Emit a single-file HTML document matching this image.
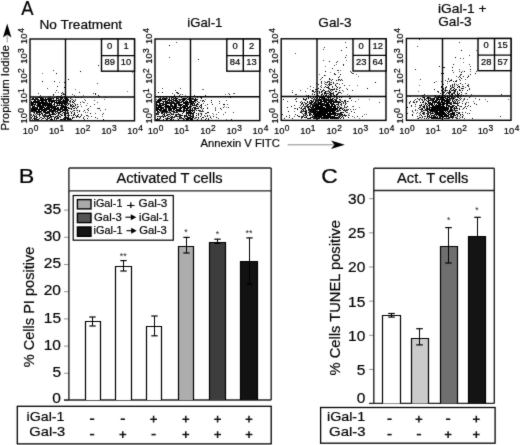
<!DOCTYPE html>
<html><head><meta charset="utf-8"><style>
html,body{margin:0;padding:0;background:#fff;}
svg{display:block;font-family:"Liberation Sans",sans-serif;filter:grayscale(1);}
text{stroke:#000;stroke-width:0.2px;}
</style></head><body>
<svg width="520" height="445" viewBox="0 0 520 445">
<defs><filter id="bl" x="-0.02" y="-0.02" width="1.04" height="1.04" color-interpolation-filters="sRGB"><feConvolveMatrix order="3" kernelMatrix="0.02 0.07 0.02 0.07 0.64 0.07 0.02 0.07 0.02" edgeMode="none" preserveAlpha="true"/></filter></defs>
<g filter="url(#bl)">
<rect x="-10" y="-10" width="540" height="465" fill="#fff"/>
<path d="M132 72h1v1h-1zM42 73h1v1h-1zM59 82h1v1h-1zM75 89h1v1h-1zM65 90h1v1h-1zM127 91h1v1h-1zM55 92h1v1h-1zM58 92h1v1h-1zM62 94h1v1h-1zM83 95h1v1h-1zM48 96h1v1h-1zM37 97h1v1h-1zM49 97h1v1h-1zM75 97h2v1h-2zM71 99h1v1h-1zM84 99h1v1h-1zM104 99h1v1h-1zM82 101h1v1h-1zM84 102h1v1h-1zM87 103h1v1h-1zM80 104h1v1h-1zM71 106h1v1h-1zM77 106h1v1h-1zM76 110h1v1h-1zM83 111h1v1h-1zM87 112h1v1h-1zM84 116h1v1h-1zM102 116h1v1h-1zM74 117h1v1h-1z" fill="#707070" shape-rendering="crispEdges"/>
<path d="M53 70h1v1h-1zM97 83h1v1h-1zM47 88h1v1h-1zM38 93h1v1h-1zM93 93h1v1h-1zM72 94h1v1h-1zM40 95h1v1h-1zM53 95h1v1h-1zM74 95h1v1h-1zM39 96h1v1h-1zM56 96h1v1h-1zM35 97h1v1h-1zM66 97h1v1h-1zM78 97h1v1h-1zM47 98h1v1h-1zM53 99h1v1h-1zM58 99h2v1h-2zM72 99h1v1h-1zM75 99h1v1h-1zM59 100h1v1h-1zM62 100h1v1h-1zM75 100h1v1h-1zM85 100h1v1h-1zM94 100h1v1h-1zM70 101h1v1h-1zM61 102h1v1h-1zM70 102h1v1h-1zM72 102h1v1h-1zM83 102h1v1h-1zM97 102h1v1h-1zM66 103h4v1h-4zM94 104h1v1h-1zM73 105h1v1h-1zM86 105h1v1h-1zM66 106h1v1h-1zM74 106h1v1h-1zM78 106h1v1h-1zM81 106h1v1h-1zM67 107h1v1h-1zM72 107h1v1h-1zM75 107h1v1h-1zM70 108h1v1h-1zM73 108h1v1h-1zM88 108h1v1h-1zM97 108h2v1h-2zM61 109h1v1h-1zM105 109h1v1h-1zM68 110h1v1h-1zM73 110h1v1h-1zM79 110h1v1h-1zM100 110h1v1h-1zM33 111h1v1h-1zM54 111h1v1h-1zM70 111h1v1h-1zM72 111h1v1h-1zM40 112h2v1h-2zM43 112h1v1h-1zM51 112h1v1h-1zM53 112h1v1h-1zM57 112h1v1h-1zM68 112h1v1h-1zM77 112h1v1h-1zM85 112h1v1h-1zM34 113h1v1h-1zM37 113h1v1h-1zM48 113h1v1h-1zM54 113h1v1h-1zM95 113h1v1h-1zM103 113h1v1h-1zM31 114h1v1h-1zM33 114h1v1h-1zM35 114h1v1h-1zM37 114h2v1h-2zM61 114h1v1h-1zM73 114h1v1h-1zM102 114h1v1h-1zM31 115h1v1h-1zM34 115h1v1h-1zM36 115h1v1h-1zM43 115h2v1h-2zM46 115h2v1h-2zM57 115h1v1h-1zM69 115h1v1h-1zM81 115h1v1h-1zM35 116h1v1h-1zM39 116h1v1h-1zM45 116h1v1h-1zM52 116h1v1h-1zM55 116h1v1h-1zM57 116h1v1h-1zM60 116h1v1h-1zM78 116h1v1h-1zM88 116h1v1h-1zM91 116h1v1h-1zM40 117h1v1h-1zM50 117h2v1h-2zM60 117h1v1h-1zM76 117h1v1h-1zM83 117h1v1h-1zM31 118h1v1h-1zM33 118h1v1h-1zM36 118h1v1h-1zM49 118h1v1h-1zM64 118h1v1h-1zM66 118h1v1h-1zM69 118h1v1h-1zM97 118h1v1h-1zM32 119h1v1h-1zM35 119h1v1h-1zM41 119h1v1h-1zM47 119h1v1h-1zM56 119h1v1h-1zM63 119h1v1h-1zM71 119h1v1h-1zM84 119h1v1h-1z" fill="#404040" shape-rendering="crispEdges"/>
<path d="M105 51h1v1h-1zM98 65h1v1h-1zM64 82h1v1h-1zM57 86h1v1h-1zM56 90h1v1h-1zM62 92h1v1h-1zM79 92h1v1h-1zM61 93h1v1h-1zM63 93h1v1h-1zM95 93h1v1h-1zM63 94h2v1h-2zM95 94h1v1h-1zM98 95h1v1h-1zM33 96h1v1h-1zM57 96h1v1h-1zM59 96h2v1h-2zM64 96h1v1h-1zM99 96h1v1h-1zM38 97h1v1h-1zM105 97h1v1h-1zM35 98h3v1h-3zM43 98h1v1h-1zM49 98h1v1h-1zM51 98h2v1h-2zM60 98h2v1h-2zM67 98h1v1h-1zM33 99h1v1h-1zM36 99h1v1h-1zM43 99h2v1h-2zM51 99h1v1h-1zM65 99h2v1h-2zM35 100h1v1h-1zM37 100h2v1h-2zM50 100h1v1h-1zM56 100h1v1h-1zM64 100h2v1h-2zM67 100h1v1h-1zM70 100h1v1h-1zM39 101h1v1h-1zM43 101h1v1h-1zM50 101h1v1h-1zM58 101h1v1h-1zM60 101h1v1h-1zM62 101h1v1h-1zM67 101h1v1h-1zM45 102h3v1h-3zM62 102h5v1h-5zM80 102h1v1h-1zM33 103h1v1h-1zM63 103h1v1h-1zM74 103h1v1h-1zM45 104h1v1h-1zM47 104h1v1h-1zM53 104h1v1h-1zM57 104h1v1h-1zM62 104h1v1h-1zM75 104h1v1h-1zM31 105h1v1h-1zM41 105h2v1h-2zM54 105h1v1h-1zM56 105h1v1h-1zM60 105h1v1h-1zM62 105h1v1h-1zM49 106h1v1h-1zM52 106h1v1h-1zM65 106h1v1h-1zM73 106h1v1h-1zM90 106h1v1h-1zM34 107h1v1h-1zM36 107h1v1h-1zM52 107h1v1h-1zM62 107h1v1h-1zM65 107h1v1h-1zM77 107h1v1h-1zM35 108h1v1h-1zM47 108h1v1h-1zM53 108h1v1h-1zM62 108h1v1h-1zM31 109h1v1h-1zM41 109h1v1h-1zM45 109h1v1h-1zM57 109h1v1h-1zM62 109h1v1h-1zM65 109h1v1h-1zM87 109h1v1h-1zM36 110h1v1h-1zM43 110h1v1h-1zM50 110h1v1h-1zM55 110h1v1h-1zM58 110h3v1h-3zM65 110h1v1h-1zM67 110h1v1h-1zM84 110h1v1h-1zM88 110h1v1h-1zM34 111h2v1h-2zM49 111h1v1h-1zM51 111h1v1h-1zM55 111h1v1h-1zM33 112h1v1h-1zM37 112h1v1h-1zM74 112h1v1h-1zM42 113h1v1h-1zM45 113h1v1h-1zM59 113h1v1h-1zM62 113h1v1h-1zM64 113h1v1h-1zM66 113h2v1h-2zM71 113h1v1h-1zM45 114h1v1h-1zM50 114h1v1h-1zM54 114h1v1h-1zM68 114h1v1h-1zM74 114h1v1h-1zM78 114h1v1h-1zM81 114h1v1h-1zM33 115h1v1h-1zM42 115h1v1h-1zM45 115h1v1h-1zM61 115h2v1h-2zM68 115h1v1h-1zM71 115h1v1h-1zM75 115h1v1h-1zM86 115h2v1h-2zM32 116h1v1h-1zM36 116h1v1h-1zM44 116h1v1h-1zM46 116h1v1h-1zM65 116h1v1h-1zM76 116h1v1h-1zM31 117h1v1h-1zM36 117h2v1h-2zM41 117h1v1h-1zM44 117h1v1h-1zM47 117h1v1h-1zM54 117h1v1h-1zM58 117h1v1h-1zM67 117h1v1h-1zM73 117h1v1h-1zM35 118h1v1h-1zM45 118h1v1h-1zM51 118h1v1h-1zM63 118h1v1h-1zM83 118h1v1h-1zM36 119h1v1h-1zM62 119h1v1h-1zM69 119h1v1h-1z" fill="#1a1a1a" shape-rendering="crispEdges"/>
<path d="M103 64h1v1h-1zM80 71h1v1h-1zM56 73h1v1h-1zM68 79h1v1h-1zM42 81h1v1h-1zM54 81h1v1h-1zM64 87h1v1h-1zM53 94h1v1h-1zM61 95h1v1h-1zM50 96h1v1h-1zM58 96h1v1h-1zM39 97h3v1h-3zM54 97h1v1h-1zM56 97h1v1h-1zM60 97h3v1h-3zM68 97h1v1h-1zM71 97h1v1h-1zM81 97h1v1h-1zM32 98h2v1h-2zM40 98h3v1h-3zM45 98h1v1h-1zM48 98h1v1h-1zM50 98h1v1h-1zM53 98h1v1h-1zM56 98h3v1h-3zM62 98h1v1h-1zM64 98h1v1h-1zM66 98h1v1h-1zM70 98h1v1h-1zM31 99h2v1h-2zM34 99h2v1h-2zM37 99h2v1h-2zM40 99h3v1h-3zM45 99h6v1h-6zM56 99h1v1h-1zM60 99h2v1h-2zM63 99h1v1h-1zM67 99h2v1h-2zM34 100h1v1h-1zM39 100h8v1h-8zM48 100h2v1h-2zM51 100h5v1h-5zM57 100h2v1h-2zM60 100h1v1h-1zM63 100h1v1h-1zM66 100h1v1h-1zM68 100h1v1h-1zM73 100h1v1h-1zM31 101h1v1h-1zM33 101h6v1h-6zM41 101h2v1h-2zM45 101h2v1h-2zM48 101h2v1h-2zM51 101h4v1h-4zM56 101h1v1h-1zM59 101h1v1h-1zM61 101h1v1h-1zM63 101h2v1h-2zM66 101h1v1h-1zM69 101h1v1h-1zM72 101h1v1h-1zM74 101h1v1h-1zM31 102h14v1h-14zM49 102h1v1h-1zM51 102h2v1h-2zM54 102h7v1h-7zM67 102h1v1h-1zM73 102h1v1h-1zM31 103h2v1h-2zM35 103h1v1h-1zM37 103h15v1h-15zM54 103h1v1h-1zM56 103h7v1h-7zM64 103h2v1h-2zM31 104h5v1h-5zM37 104h4v1h-4zM42 104h3v1h-3zM46 104h1v1h-1zM48 104h4v1h-4zM54 104h1v1h-1zM59 104h1v1h-1zM61 104h1v1h-1zM64 104h1v1h-1zM66 104h1v1h-1zM68 104h1v1h-1zM70 104h1v1h-1zM72 104h1v1h-1zM77 104h1v1h-1zM32 105h1v1h-1zM34 105h1v1h-1zM36 105h5v1h-5zM43 105h10v1h-10zM57 105h3v1h-3zM61 105h1v1h-1zM63 105h1v1h-1zM67 105h1v1h-1zM70 105h2v1h-2zM75 105h1v1h-1zM32 106h3v1h-3zM37 106h7v1h-7zM45 106h1v1h-1zM47 106h2v1h-2zM50 106h2v1h-2zM53 106h4v1h-4zM61 106h4v1h-4zM70 106h1v1h-1zM72 106h1v1h-1zM32 107h2v1h-2zM35 107h1v1h-1zM37 107h1v1h-1zM39 107h6v1h-6zM46 107h6v1h-6zM53 107h3v1h-3zM57 107h2v1h-2zM60 107h2v1h-2zM63 107h2v1h-2zM66 107h1v1h-1zM68 107h1v1h-1zM31 108h4v1h-4zM36 108h2v1h-2zM39 108h4v1h-4zM44 108h3v1h-3zM48 108h2v1h-2zM51 108h2v1h-2zM54 108h5v1h-5zM60 108h2v1h-2zM64 108h3v1h-3zM68 108h2v1h-2zM71 108h1v1h-1zM74 108h1v1h-1zM76 108h1v1h-1zM99 108h1v1h-1zM32 109h9v1h-9zM42 109h3v1h-3zM46 109h6v1h-6zM53 109h4v1h-4zM58 109h3v1h-3zM63 109h2v1h-2zM66 109h2v1h-2zM71 109h1v1h-1zM31 110h5v1h-5zM38 110h2v1h-2zM41 110h2v1h-2zM44 110h3v1h-3zM49 110h1v1h-1zM51 110h4v1h-4zM57 110h1v1h-1zM62 110h3v1h-3zM66 110h1v1h-1zM74 110h1v1h-1zM77 110h1v1h-1zM31 111h2v1h-2zM36 111h6v1h-6zM43 111h3v1h-3zM47 111h2v1h-2zM50 111h1v1h-1zM52 111h2v1h-2zM56 111h2v1h-2zM60 111h3v1h-3zM65 111h1v1h-1zM67 111h1v1h-1zM79 111h1v1h-1zM34 112h1v1h-1zM36 112h1v1h-1zM38 112h2v1h-2zM44 112h6v1h-6zM52 112h1v1h-1zM55 112h1v1h-1zM58 112h3v1h-3zM63 112h3v1h-3zM67 112h1v1h-1zM71 112h1v1h-1zM36 113h1v1h-1zM39 113h1v1h-1zM41 113h1v1h-1zM46 113h2v1h-2zM49 113h1v1h-1zM52 113h2v1h-2zM56 113h1v1h-1zM58 113h1v1h-1zM65 113h1v1h-1zM68 113h1v1h-1zM74 113h1v1h-1zM90 113h1v1h-1zM39 114h2v1h-2zM42 114h1v1h-1zM44 114h1v1h-1zM49 114h1v1h-1zM51 114h3v1h-3zM55 114h1v1h-1zM58 114h1v1h-1zM60 114h1v1h-1zM64 114h1v1h-1zM39 115h1v1h-1zM48 115h3v1h-3zM58 115h1v1h-1zM64 115h2v1h-2zM67 115h1v1h-1zM73 115h1v1h-1zM77 115h1v1h-1zM34 116h1v1h-1zM43 116h1v1h-1zM47 116h2v1h-2zM50 116h2v1h-2zM53 116h1v1h-1zM56 116h1v1h-1zM59 116h1v1h-1zM68 116h1v1h-1zM77 116h1v1h-1zM80 116h1v1h-1zM34 117h1v1h-1zM49 117h1v1h-1zM55 117h1v1h-1zM57 117h1v1h-1zM64 117h3v1h-3zM68 117h1v1h-1zM72 117h1v1h-1zM79 117h1v1h-1zM95 117h1v1h-1zM34 118h1v1h-1zM39 118h1v1h-1zM42 118h2v1h-2zM47 118h2v1h-2zM54 118h1v1h-1zM56 118h3v1h-3zM65 118h1v1h-1zM67 118h2v1h-2zM70 118h1v1h-1zM72 118h1v1h-1zM87 118h1v1h-1zM34 119h1v1h-1zM37 119h2v1h-2zM46 119h1v1h-1zM50 119h3v1h-3zM54 119h1v1h-1zM60 119h2v1h-2zM64 119h2v1h-2zM67 119h2v1h-2zM70 119h1v1h-1zM103 119h1v1h-1z" fill="#000" shape-rendering="crispEdges"/>
<rect x="30.0" y="39.0" width="104.5" height="81.8" fill="none" stroke="#000" stroke-width="1.4"/>
<line x1="65.5" y1="39.0" x2="65.5" y2="120.8" stroke="#000" stroke-width="1.4"/>
<line x1="30.0" y1="97.0" x2="134.5" y2="97.0" stroke="#000" stroke-width="1.4"/>
<rect x="101.5" y="39.0" width="33.0" height="32.2" fill="#fff" stroke="#000" stroke-width="1.4"/>
<line x1="118.0" y1="39.0" x2="118.0" y2="71.2" stroke="#000" stroke-width="1.4"/>
<line x1="101.5" y1="55.6" x2="134.5" y2="55.6" stroke="#000" stroke-width="1.4"/>
<text x="107.12" y="48.90" font-size="9.40" textLength="5.23" lengthAdjust="spacingAndGlyphs" fill="#000" >0</text>
<text x="123.50" y="48.90" font-size="9.40" textLength="5.23" lengthAdjust="spacingAndGlyphs" fill="#000" >1</text>
<text x="104.53" y="65.00" font-size="9.40" textLength="10.46" lengthAdjust="spacingAndGlyphs" fill="#000" >89</text>
<text x="120.84" y="65.00" font-size="9.40" textLength="10.46" lengthAdjust="spacingAndGlyphs" fill="#000" >10</text>
<text x="22.80" y="134.40" font-size="9.4">10</text>
<text x="33.66" y="131.40" font-size="8.4">0</text>
<text x="48.92" y="134.40" font-size="9.4">10</text>
<text x="59.49" y="131.40" font-size="8.4">1</text>
<text x="75.05" y="134.40" font-size="9.4">10</text>
<text x="85.83" y="131.40" font-size="8.4">2</text>
<text x="101.17" y="134.40" font-size="9.4">10</text>
<text x="112.04" y="131.40" font-size="8.4">3</text>
<text x="127.30" y="134.40" font-size="9.4">10</text>
<text x="138.33" y="131.40" font-size="8.4">4</text>
<g transform="translate(27.00,122.80) rotate(-90)"><text x="-0.70" y="0" font-size="9.4">10</text><text x="10.16" y="-3.0" font-size="8.4">0</text></g>
<g transform="translate(27.00,102.90) rotate(-90)"><text x="-0.70" y="0" font-size="9.4">10</text><text x="9.87" y="-3.0" font-size="8.4">1</text></g>
<g transform="translate(27.00,83.00) rotate(-90)"><text x="-0.70" y="0" font-size="9.4">10</text><text x="10.08" y="-3.0" font-size="8.4">2</text></g>
<g transform="translate(27.00,63.10) rotate(-90)"><text x="-0.70" y="0" font-size="9.4">10</text><text x="10.16" y="-3.0" font-size="8.4">3</text></g>
<g transform="translate(27.00,43.20) rotate(-90)"><text x="-0.70" y="0" font-size="9.4">10</text><text x="10.33" y="-3.0" font-size="8.4">4</text></g>
<path d="M202 89h2v1h-2zM228 93h1v1h-1zM233 93h1v1h-1zM174 94h1v1h-1zM225 94h1v1h-1zM185 95h1v1h-1zM197 96h1v1h-1zM204 96h1v1h-1zM230 96h1v1h-1zM205 99h1v1h-1zM224 106h1v1h-1zM198 107h1v1h-1zM207 107h1v1h-1zM215 107h1v1h-1zM226 107h1v1h-1zM215 108h1v1h-1zM202 109h1v1h-1zM215 109h1v1h-1zM199 111h1v1h-1zM212 113h1v1h-1zM213 114h1v1h-1zM201 115h1v1h-1zM209 115h1v1h-1zM210 116h1v1h-1zM172 118h1v1h-1zM195 118h1v1h-1zM211 118h1v1h-1zM226 119h1v1h-1z" fill="#707070" shape-rendering="crispEdges"/>
<path d="M176 42h1v1h-1zM169 57h1v1h-1zM247 69h1v1h-1zM162 88h1v1h-1zM180 88h1v1h-1zM175 90h1v1h-1zM172 93h1v1h-1zM177 93h1v1h-1zM234 93h1v1h-1zM180 94h1v1h-1zM182 94h1v1h-1zM174 95h1v1h-1zM180 96h3v1h-3zM158 97h1v1h-1zM169 97h1v1h-1zM171 97h1v1h-1zM173 97h1v1h-1zM189 97h1v1h-1zM200 97h1v1h-1zM159 98h1v1h-1zM163 98h1v1h-1zM167 98h1v1h-1zM173 98h1v1h-1zM182 98h1v1h-1zM188 98h1v1h-1zM190 98h2v1h-2zM193 98h1v1h-1zM156 99h1v1h-1zM171 99h1v1h-1zM180 99h1v1h-1zM191 99h3v1h-3zM179 100h1v1h-1zM200 100h1v1h-1zM202 100h1v1h-1zM226 100h1v1h-1zM181 101h1v1h-1zM195 101h1v1h-1zM192 102h1v1h-1zM195 102h1v1h-1zM198 102h2v1h-2zM188 103h1v1h-1zM190 103h1v1h-1zM203 103h1v1h-1zM219 103h1v1h-1zM198 104h1v1h-1zM227 104h1v1h-1zM205 105h1v1h-1zM196 106h1v1h-1zM201 106h1v1h-1zM176 107h1v1h-1zM179 107h1v1h-1zM182 107h1v1h-1zM201 107h1v1h-1zM183 108h1v1h-1zM201 108h1v1h-1zM194 109h1v1h-1zM221 109h1v1h-1zM200 110h1v1h-1zM202 110h1v1h-1zM215 110h1v1h-1zM160 111h2v1h-2zM171 111h1v1h-1zM177 111h2v1h-2zM194 111h1v1h-1zM200 111h1v1h-1zM202 111h2v1h-2zM158 112h1v1h-1zM163 112h3v1h-3zM167 112h2v1h-2zM173 112h1v1h-1zM175 112h1v1h-1zM218 112h1v1h-1zM225 112h1v1h-1zM233 112h1v1h-1zM157 113h1v1h-1zM170 113h1v1h-1zM173 113h1v1h-1zM178 113h1v1h-1zM200 113h1v1h-1zM205 113h2v1h-2zM157 114h1v1h-1zM175 114h1v1h-1zM177 114h1v1h-1zM180 114h1v1h-1zM192 114h1v1h-1zM216 114h1v1h-1zM223 114h1v1h-1zM170 115h1v1h-1zM179 115h1v1h-1zM185 115h1v1h-1zM192 115h1v1h-1zM198 115h1v1h-1zM204 115h1v1h-1zM158 116h1v1h-1zM160 116h1v1h-1zM162 116h1v1h-1zM164 116h1v1h-1zM169 116h1v1h-1zM171 116h1v1h-1zM174 116h2v1h-2zM178 116h1v1h-1zM185 116h1v1h-1zM172 117h1v1h-1zM180 117h1v1h-1zM195 117h1v1h-1zM160 118h1v1h-1zM165 118h1v1h-1zM177 118h1v1h-1zM181 118h1v1h-1zM194 118h1v1h-1zM198 118h1v1h-1zM201 118h1v1h-1zM208 118h1v1h-1zM218 118h1v1h-1zM159 119h1v1h-1zM167 119h1v1h-1zM184 119h1v1h-1zM201 119h1v1h-1z" fill="#404040" shape-rendering="crispEdges"/>
<path d="M198 59h1v1h-1zM176 92h1v1h-1zM179 95h1v1h-1zM194 95h1v1h-1zM205 95h1v1h-1zM203 96h1v1h-1zM160 97h1v1h-1zM163 97h1v1h-1zM172 97h1v1h-1zM175 97h1v1h-1zM160 98h1v1h-1zM166 98h1v1h-1zM175 98h1v1h-1zM185 98h1v1h-1zM161 99h1v1h-1zM166 99h1v1h-1zM175 99h1v1h-1zM178 99h1v1h-1zM182 99h1v1h-1zM188 99h1v1h-1zM196 99h1v1h-1zM157 100h1v1h-1zM167 100h1v1h-1zM173 100h1v1h-1zM177 100h1v1h-1zM180 100h1v1h-1zM183 100h1v1h-1zM186 100h1v1h-1zM196 100h1v1h-1zM156 101h1v1h-1zM159 101h2v1h-2zM164 101h1v1h-1zM167 101h1v1h-1zM172 101h2v1h-2zM176 101h2v1h-2zM179 101h1v1h-1zM182 101h1v1h-1zM186 101h1v1h-1zM189 101h1v1h-1zM197 101h1v1h-1zM202 101h1v1h-1zM204 101h1v1h-1zM219 101h1v1h-1zM166 102h1v1h-1zM171 102h4v1h-4zM176 102h2v1h-2zM179 102h1v1h-1zM211 102h1v1h-1zM162 103h1v1h-1zM165 103h1v1h-1zM169 103h2v1h-2zM172 103h1v1h-1zM178 103h1v1h-1zM183 103h1v1h-1zM192 103h2v1h-2zM157 104h1v1h-1zM162 104h1v1h-1zM166 104h1v1h-1zM176 104h1v1h-1zM187 104h1v1h-1zM191 104h1v1h-1zM196 104h1v1h-1zM207 104h1v1h-1zM212 104h1v1h-1zM162 105h2v1h-2zM170 105h1v1h-1zM184 105h2v1h-2zM195 105h1v1h-1zM200 105h1v1h-1zM161 106h1v1h-1zM170 106h1v1h-1zM172 106h1v1h-1zM191 106h1v1h-1zM173 107h1v1h-1zM223 107h1v1h-1zM228 107h1v1h-1zM162 108h1v1h-1zM165 108h2v1h-2zM172 108h1v1h-1zM195 108h1v1h-1zM169 109h1v1h-1zM179 109h1v1h-1zM195 109h1v1h-1zM161 110h2v1h-2zM165 110h1v1h-1zM168 110h1v1h-1zM173 110h1v1h-1zM184 110h1v1h-1zM193 110h1v1h-1zM169 111h1v1h-1zM173 111h1v1h-1zM176 111h1v1h-1zM180 111h2v1h-2zM188 111h2v1h-2zM201 111h1v1h-1zM157 112h1v1h-1zM161 112h1v1h-1zM169 112h2v1h-2zM177 112h1v1h-1zM191 112h1v1h-1zM193 112h1v1h-1zM158 113h1v1h-1zM166 113h1v1h-1zM171 113h1v1h-1zM188 113h2v1h-2zM196 113h1v1h-1zM201 113h1v1h-1zM158 114h1v1h-1zM167 114h1v1h-1zM171 114h1v1h-1zM193 114h1v1h-1zM198 114h1v1h-1zM162 115h1v1h-1zM175 115h2v1h-2zM193 115h1v1h-1zM207 115h1v1h-1zM161 116h1v1h-1zM172 116h1v1h-1zM176 116h1v1h-1zM179 116h2v1h-2zM192 116h1v1h-1zM200 116h1v1h-1zM207 116h1v1h-1zM163 117h1v1h-1zM167 117h1v1h-1zM173 117h2v1h-2zM179 117h1v1h-1zM192 117h1v1h-1zM202 117h1v1h-1zM159 118h1v1h-1zM166 118h1v1h-1zM171 118h1v1h-1zM179 118h2v1h-2zM182 118h2v1h-2zM190 118h1v1h-1zM206 118h1v1h-1zM156 119h3v1h-3zM183 119h1v1h-1zM197 119h1v1h-1zM231 119h1v1h-1z" fill="#1a1a1a" shape-rendering="crispEdges"/>
<path d="M169 45h1v1h-1zM239 56h1v1h-1zM229 62h1v1h-1zM158 92h1v1h-1zM162 92h1v1h-1zM177 92h1v1h-1zM178 93h1v1h-1zM229 94h1v1h-1zM178 96h1v1h-1zM194 96h1v1h-1zM166 97h1v1h-1zM181 97h1v1h-1zM187 97h1v1h-1zM190 97h1v1h-1zM197 97h1v1h-1zM201 97h1v1h-1zM230 97h1v1h-1zM162 98h1v1h-1zM164 98h2v1h-2zM169 98h1v1h-1zM171 98h1v1h-1zM174 98h1v1h-1zM176 98h2v1h-2zM183 98h2v1h-2zM186 98h1v1h-1zM189 98h1v1h-1zM192 98h1v1h-1zM195 98h1v1h-1zM201 98h1v1h-1zM158 99h3v1h-3zM162 99h4v1h-4zM168 99h2v1h-2zM172 99h2v1h-2zM176 99h1v1h-1zM179 99h1v1h-1zM181 99h1v1h-1zM183 99h3v1h-3zM187 99h1v1h-1zM189 99h2v1h-2zM194 99h2v1h-2zM197 99h1v1h-1zM158 100h4v1h-4zM165 100h1v1h-1zM168 100h4v1h-4zM174 100h3v1h-3zM182 100h1v1h-1zM184 100h1v1h-1zM189 100h1v1h-1zM191 100h1v1h-1zM194 100h2v1h-2zM203 100h1v1h-1zM211 100h1v1h-1zM157 101h2v1h-2zM162 101h2v1h-2zM165 101h2v1h-2zM169 101h1v1h-1zM171 101h1v1h-1zM175 101h1v1h-1zM178 101h1v1h-1zM183 101h1v1h-1zM185 101h1v1h-1zM187 101h1v1h-1zM190 101h5v1h-5zM156 102h4v1h-4zM163 102h1v1h-1zM165 102h1v1h-1zM167 102h4v1h-4zM178 102h1v1h-1zM180 102h2v1h-2zM183 102h7v1h-7zM191 102h1v1h-1zM193 102h1v1h-1zM156 103h1v1h-1zM159 103h3v1h-3zM163 103h1v1h-1zM166 103h3v1h-3zM171 103h1v1h-1zM173 103h5v1h-5zM179 103h1v1h-1zM184 103h4v1h-4zM191 103h1v1h-1zM194 103h1v1h-1zM197 103h1v1h-1zM156 104h1v1h-1zM159 104h2v1h-2zM163 104h3v1h-3zM170 104h2v1h-2zM174 104h2v1h-2zM178 104h5v1h-5zM185 104h2v1h-2zM188 104h1v1h-1zM190 104h1v1h-1zM192 104h1v1h-1zM194 104h1v1h-1zM197 104h1v1h-1zM201 104h1v1h-1zM223 104h2v1h-2zM156 105h6v1h-6zM165 105h4v1h-4zM171 105h2v1h-2zM174 105h3v1h-3zM178 105h4v1h-4zM183 105h1v1h-1zM186 105h2v1h-2zM190 105h1v1h-1zM192 105h3v1h-3zM196 105h1v1h-1zM201 105h1v1h-1zM156 106h1v1h-1zM158 106h3v1h-3zM164 106h6v1h-6zM171 106h1v1h-1zM173 106h4v1h-4zM180 106h1v1h-1zM182 106h6v1h-6zM189 106h2v1h-2zM197 106h1v1h-1zM199 106h1v1h-1zM156 107h8v1h-8zM165 107h6v1h-6zM172 107h1v1h-1zM174 107h2v1h-2zM177 107h2v1h-2zM180 107h2v1h-2zM183 107h3v1h-3zM187 107h4v1h-4zM193 107h3v1h-3zM200 107h1v1h-1zM156 108h3v1h-3zM160 108h2v1h-2zM163 108h1v1h-1zM168 108h4v1h-4zM173 108h4v1h-4zM179 108h3v1h-3zM184 108h5v1h-5zM192 108h1v1h-1zM194 108h1v1h-1zM196 108h3v1h-3zM203 108h1v1h-1zM207 108h1v1h-1zM220 108h1v1h-1zM156 109h6v1h-6zM163 109h4v1h-4zM168 109h1v1h-1zM170 109h2v1h-2zM173 109h2v1h-2zM176 109h3v1h-3zM180 109h1v1h-1zM183 109h2v1h-2zM186 109h2v1h-2zM189 109h2v1h-2zM192 109h1v1h-1zM156 110h2v1h-2zM159 110h2v1h-2zM163 110h2v1h-2zM166 110h1v1h-1zM169 110h3v1h-3zM175 110h7v1h-7zM183 110h1v1h-1zM185 110h5v1h-5zM191 110h2v1h-2zM194 110h1v1h-1zM196 110h1v1h-1zM198 110h2v1h-2zM157 111h2v1h-2zM162 111h6v1h-6zM172 111h1v1h-1zM174 111h1v1h-1zM179 111h1v1h-1zM182 111h3v1h-3zM186 111h1v1h-1zM192 111h1v1h-1zM159 112h1v1h-1zM162 112h1v1h-1zM166 112h1v1h-1zM174 112h1v1h-1zM176 112h1v1h-1zM183 112h1v1h-1zM186 112h5v1h-5zM194 112h1v1h-1zM207 112h2v1h-2zM156 113h1v1h-1zM161 113h2v1h-2zM164 113h1v1h-1zM182 113h1v1h-1zM186 113h2v1h-2zM190 113h4v1h-4zM198 113h1v1h-1zM156 114h1v1h-1zM163 114h2v1h-2zM168 114h2v1h-2zM172 114h2v1h-2zM176 114h1v1h-1zM178 114h2v1h-2zM186 114h1v1h-1zM188 114h1v1h-1zM190 114h1v1h-1zM201 114h1v1h-1zM164 115h1v1h-1zM166 115h2v1h-2zM180 115h3v1h-3zM184 115h1v1h-1zM186 115h1v1h-1zM188 115h3v1h-3zM196 115h1v1h-1zM157 116h1v1h-1zM159 116h1v1h-1zM163 116h1v1h-1zM165 116h1v1h-1zM168 116h1v1h-1zM177 116h1v1h-1zM184 116h1v1h-1zM186 116h2v1h-2zM190 116h2v1h-2zM193 116h1v1h-1zM205 116h1v1h-1zM213 116h1v1h-1zM160 117h1v1h-1zM170 117h2v1h-2zM181 117h1v1h-1zM184 117h1v1h-1zM187 117h4v1h-4zM193 117h1v1h-1zM196 117h1v1h-1zM198 117h1v1h-1zM203 117h1v1h-1zM210 117h1v1h-1zM216 117h1v1h-1zM157 118h1v1h-1zM167 118h3v1h-3zM185 118h5v1h-5zM191 118h2v1h-2zM163 119h1v1h-1zM166 119h1v1h-1zM170 119h2v1h-2zM173 119h1v1h-1zM178 119h1v1h-1zM186 119h3v1h-3zM190 119h3v1h-3zM205 119h1v1h-1zM208 119h1v1h-1z" fill="#000" shape-rendering="crispEdges"/>
<rect x="155.0" y="39.0" width="104.80000000000001" height="81.6" fill="none" stroke="#000" stroke-width="1.4"/>
<line x1="190.5" y1="39.0" x2="190.5" y2="120.6" stroke="#000" stroke-width="1.4"/>
<line x1="155.0" y1="96.7" x2="259.8" y2="96.7" stroke="#000" stroke-width="1.4"/>
<rect x="226.8" y="39.0" width="33.0" height="32.2" fill="#fff" stroke="#000" stroke-width="1.4"/>
<line x1="243.3" y1="39.0" x2="243.3" y2="71.2" stroke="#000" stroke-width="1.4"/>
<line x1="226.8" y1="55.6" x2="259.8" y2="55.6" stroke="#000" stroke-width="1.4"/>
<text x="232.42" y="48.90" font-size="9.40" textLength="5.23" lengthAdjust="spacingAndGlyphs" fill="#000" >0</text>
<text x="248.94" y="48.90" font-size="9.40" textLength="5.23" lengthAdjust="spacingAndGlyphs" fill="#000" >2</text>
<text x="229.76" y="65.00" font-size="9.40" textLength="10.46" lengthAdjust="spacingAndGlyphs" fill="#000" >84</text>
<text x="246.17" y="65.00" font-size="9.40" textLength="10.46" lengthAdjust="spacingAndGlyphs" fill="#000" >13</text>
<text x="147.79" y="134.40" font-size="9.4">10</text>
<text x="158.66" y="131.40" font-size="8.4">0</text>
<text x="173.99" y="134.40" font-size="9.4">10</text>
<text x="184.57" y="131.40" font-size="8.4">1</text>
<text x="200.19" y="134.40" font-size="9.4">10</text>
<text x="210.98" y="131.40" font-size="8.4">2</text>
<text x="226.40" y="134.40" font-size="9.4">10</text>
<text x="237.26" y="131.40" font-size="8.4">3</text>
<text x="252.59" y="134.40" font-size="9.4">10</text>
<text x="263.63" y="131.40" font-size="8.4">4</text>
<g transform="translate(152.00,122.80) rotate(-90)"><text x="-0.70" y="0" font-size="9.4">10</text><text x="10.16" y="-3.0" font-size="8.4">0</text></g>
<g transform="translate(152.00,102.90) rotate(-90)"><text x="-0.70" y="0" font-size="9.4">10</text><text x="9.87" y="-3.0" font-size="8.4">1</text></g>
<g transform="translate(152.00,83.00) rotate(-90)"><text x="-0.70" y="0" font-size="9.4">10</text><text x="10.08" y="-3.0" font-size="8.4">2</text></g>
<g transform="translate(152.00,63.10) rotate(-90)"><text x="-0.70" y="0" font-size="9.4">10</text><text x="10.16" y="-3.0" font-size="8.4">3</text></g>
<g transform="translate(152.00,43.20) rotate(-90)"><text x="-0.70" y="0" font-size="9.4">10</text><text x="10.33" y="-3.0" font-size="8.4">4</text></g>
<path d="M363 50h1v1h-1zM357 54h1v1h-1zM346 60h1v1h-1zM336 64h1v1h-1zM325 66h1v1h-1zM340 70h1v1h-1zM330 72h1v1h-1zM338 72h1v1h-1zM319 74h1v1h-1zM356 74h1v1h-1zM325 75h1v1h-1zM358 76h1v1h-1zM321 78h1v1h-1zM330 79h1v1h-1zM324 81h1v1h-1zM327 81h1v1h-1zM326 82h1v1h-1zM329 82h2v1h-2zM324 83h1v1h-1zM336 83h1v1h-1zM327 85h1v1h-1zM349 85h1v1h-1zM357 85h1v1h-1zM313 87h1v1h-1zM339 87h1v1h-1zM307 88h1v1h-1zM336 88h1v1h-1zM346 88h1v1h-1zM310 89h1v1h-1zM329 89h1v1h-1zM337 89h1v1h-1zM292 90h1v1h-1zM313 90h1v1h-1zM318 91h1v1h-1zM343 91h1v1h-1zM312 93h1v1h-1zM338 93h1v1h-1zM341 93h1v1h-1zM347 94h1v1h-1zM349 95h1v1h-1zM337 96h1v1h-1zM337 97h1v1h-1zM350 97h1v1h-1zM358 99h1v1h-1zM369 99h1v1h-1zM348 101h1v1h-1zM346 103h1v1h-1zM352 106h1v1h-1zM304 107h1v1h-1zM345 107h1v1h-1zM359 107h1v1h-1zM300 108h1v1h-1zM347 109h1v1h-1zM294 111h1v1h-1zM300 111h1v1h-1zM349 113h1v1h-1zM348 114h1v1h-1zM364 114h1v1h-1zM366 114h1v1h-1zM349 115h1v1h-1zM359 118h1v1h-1z" fill="#707070" shape-rendering="crispEdges"/>
<path d="M345 42h1v1h-1zM324 47h1v1h-1zM323 49h1v1h-1zM295 53h1v1h-1zM346 55h1v1h-1zM365 55h1v1h-1zM367 57h1v1h-1zM323 60h1v1h-1zM337 61h1v1h-1zM336 62h1v1h-1zM334 65h1v1h-1zM343 65h1v1h-1zM337 70h2v1h-2zM350 71h1v1h-1zM352 73h2v1h-2zM334 74h1v1h-1zM339 76h1v1h-1zM320 79h1v1h-1zM331 80h1v1h-1zM338 80h1v1h-1zM342 80h1v1h-1zM328 81h1v1h-1zM321 82h1v1h-1zM325 82h1v1h-1zM321 83h1v1h-1zM342 83h1v1h-1zM325 84h2v1h-2zM328 84h1v1h-1zM335 84h1v1h-1zM339 84h1v1h-1zM321 85h1v1h-1zM320 86h1v1h-1zM328 86h1v1h-1zM324 87h1v1h-1zM332 87h1v1h-1zM340 87h1v1h-1zM334 88h1v1h-1zM339 88h1v1h-1zM317 89h1v1h-1zM323 89h1v1h-1zM330 89h1v1h-1zM300 90h1v1h-1zM322 90h2v1h-2zM328 90h1v1h-1zM332 90h1v1h-1zM342 90h1v1h-1zM305 91h1v1h-1zM319 91h1v1h-1zM322 91h1v1h-1zM326 91h4v1h-4zM331 91h1v1h-1zM319 93h1v1h-1zM322 93h1v1h-1zM327 93h1v1h-1zM333 93h1v1h-1zM337 93h1v1h-1zM295 94h2v1h-2zM312 94h1v1h-1zM317 94h1v1h-1zM322 94h1v1h-1zM324 94h1v1h-1zM326 94h1v1h-1zM331 94h1v1h-1zM306 95h1v1h-1zM317 95h2v1h-2zM331 95h1v1h-1zM333 95h1v1h-1zM313 96h1v1h-1zM315 96h3v1h-3zM320 96h1v1h-1zM328 96h1v1h-1zM334 96h1v1h-1zM334 97h1v1h-1zM336 97h1v1h-1zM311 98h1v1h-1zM316 98h1v1h-1zM321 98h1v1h-1zM325 98h1v1h-1zM333 98h1v1h-1zM336 98h1v1h-1zM350 98h1v1h-1zM306 99h1v1h-1zM313 99h2v1h-2zM322 99h1v1h-1zM329 99h1v1h-1zM335 99h1v1h-1zM340 99h1v1h-1zM317 100h1v1h-1zM351 100h1v1h-1zM287 101h1v1h-1zM301 101h1v1h-1zM309 101h1v1h-1zM338 101h1v1h-1zM344 101h1v1h-1zM355 101h1v1h-1zM309 102h1v1h-1zM379 102h1v1h-1zM301 103h1v1h-1zM315 103h1v1h-1zM345 103h1v1h-1zM301 104h1v1h-1zM305 104h1v1h-1zM310 104h1v1h-1zM313 104h1v1h-1zM341 104h1v1h-1zM306 105h1v1h-1zM344 105h1v1h-1zM304 106h2v1h-2zM307 106h1v1h-1zM344 106h1v1h-1zM353 106h1v1h-1zM305 107h1v1h-1zM341 107h1v1h-1zM344 107h1v1h-1zM294 108h2v1h-2zM297 108h1v1h-1zM303 108h1v1h-1zM309 108h1v1h-1zM342 108h2v1h-2zM303 109h1v1h-1zM346 109h1v1h-1zM350 109h1v1h-1zM355 109h1v1h-1zM305 110h1v1h-1zM309 110h1v1h-1zM338 110h2v1h-2zM345 110h1v1h-1zM347 110h1v1h-1zM301 111h1v1h-1zM303 111h1v1h-1zM338 111h1v1h-1zM309 112h2v1h-2zM347 112h1v1h-1zM302 113h1v1h-1zM304 113h1v1h-1zM338 113h2v1h-2zM305 114h1v1h-1zM310 114h1v1h-1zM303 115h2v1h-2zM340 115h4v1h-4zM348 115h1v1h-1zM294 116h1v1h-1zM301 116h1v1h-1zM303 116h1v1h-1zM312 116h1v1h-1zM340 116h1v1h-1zM345 116h1v1h-1zM352 116h1v1h-1zM302 117h1v1h-1zM313 117h1v1h-1zM338 117h1v1h-1zM354 117h1v1h-1zM301 118h1v1h-1z" fill="#404040" shape-rendering="crispEdges"/>
<path d="M346 47h1v1h-1zM341 50h1v1h-1zM329 61h1v1h-1zM343 64h1v1h-1zM332 68h1v1h-1zM351 72h1v1h-1zM334 73h1v1h-1zM335 74h1v1h-1zM329 78h1v1h-1zM329 79h1v1h-1zM332 79h1v1h-1zM338 79h2v1h-2zM341 79h1v1h-1zM321 81h1v1h-1zM329 81h1v1h-1zM331 82h1v1h-1zM333 82h1v1h-1zM333 83h1v1h-1zM337 83h1v1h-1zM318 84h1v1h-1zM329 84h2v1h-2zM344 85h1v1h-1zM310 86h1v1h-1zM325 86h1v1h-1zM332 86h1v1h-1zM321 87h1v1h-1zM326 87h1v1h-1zM329 88h1v1h-1zM315 89h1v1h-1zM334 89h1v1h-1zM347 89h1v1h-1zM324 90h1v1h-1zM330 90h1v1h-1zM352 90h1v1h-1zM312 91h1v1h-1zM315 91h1v1h-1zM333 92h1v1h-1zM338 92h2v1h-2zM326 93h1v1h-1zM328 93h1v1h-1zM321 94h1v1h-1zM329 94h2v1h-2zM323 95h1v1h-1zM328 95h1v1h-1zM336 95h1v1h-1zM312 96h1v1h-1zM322 96h1v1h-1zM325 96h2v1h-2zM329 96h1v1h-1zM335 96h2v1h-2zM310 97h1v1h-1zM313 97h1v1h-1zM315 97h1v1h-1zM321 97h1v1h-1zM323 97h1v1h-1zM328 97h3v1h-3zM339 97h1v1h-1zM341 97h1v1h-1zM312 98h1v1h-1zM314 98h1v1h-1zM326 98h1v1h-1zM330 98h1v1h-1zM337 98h1v1h-1zM304 99h2v1h-2zM315 99h1v1h-1zM319 99h1v1h-1zM321 99h1v1h-1zM323 99h1v1h-1zM325 99h1v1h-1zM336 99h1v1h-1zM310 100h1v1h-1zM318 100h1v1h-1zM325 100h2v1h-2zM330 100h1v1h-1zM332 100h2v1h-2zM344 100h1v1h-1zM312 101h2v1h-2zM323 101h1v1h-1zM328 101h3v1h-3zM334 101h2v1h-2zM337 101h1v1h-1zM341 101h2v1h-2zM345 101h1v1h-1zM311 102h1v1h-1zM326 102h1v1h-1zM335 102h1v1h-1zM337 102h1v1h-1zM345 102h1v1h-1zM306 103h1v1h-1zM313 103h1v1h-1zM321 103h1v1h-1zM323 103h1v1h-1zM332 103h1v1h-1zM341 103h1v1h-1zM343 103h1v1h-1zM307 104h1v1h-1zM311 104h2v1h-2zM314 104h1v1h-1zM316 104h1v1h-1zM323 104h2v1h-2zM338 104h1v1h-1zM340 104h1v1h-1zM345 104h1v1h-1zM294 105h1v1h-1zM300 105h1v1h-1zM310 105h1v1h-1zM314 105h1v1h-1zM335 105h1v1h-1zM338 105h1v1h-1zM302 106h1v1h-1zM306 106h1v1h-1zM310 106h1v1h-1zM315 106h1v1h-1zM339 106h1v1h-1zM287 107h1v1h-1zM299 107h1v1h-1zM301 107h1v1h-1zM312 107h1v1h-1zM337 107h1v1h-1zM305 108h1v1h-1zM312 108h2v1h-2zM341 108h1v1h-1zM305 109h1v1h-1zM312 109h1v1h-1zM315 109h1v1h-1zM337 109h1v1h-1zM348 109h1v1h-1zM353 109h1v1h-1zM308 110h1v1h-1zM311 110h2v1h-2zM343 110h2v1h-2zM346 110h1v1h-1zM302 111h1v1h-1zM304 111h1v1h-1zM306 111h1v1h-1zM309 111h1v1h-1zM311 111h1v1h-1zM314 111h1v1h-1zM334 111h1v1h-1zM300 112h1v1h-1zM305 112h1v1h-1zM342 112h1v1h-1zM346 112h1v1h-1zM354 112h1v1h-1zM306 113h1v1h-1zM310 113h1v1h-1zM337 113h1v1h-1zM341 113h1v1h-1zM282 114h1v1h-1zM295 114h1v1h-1zM303 114h1v1h-1zM316 114h1v1h-1zM337 114h1v1h-1zM339 114h2v1h-2zM289 115h1v1h-1zM310 115h1v1h-1zM314 115h1v1h-1zM335 115h1v1h-1zM339 115h1v1h-1zM345 115h2v1h-2zM298 116h1v1h-1zM331 116h1v1h-1zM338 116h2v1h-2zM357 116h1v1h-1zM362 116h1v1h-1zM304 117h1v1h-1zM311 117h2v1h-2zM314 117h1v1h-1zM316 117h1v1h-1zM320 117h1v1h-1zM322 117h1v1h-1zM325 117h1v1h-1zM343 117h1v1h-1zM284 118h1v1h-1zM314 118h3v1h-3zM322 118h2v1h-2zM328 118h1v1h-1zM331 118h1v1h-1zM333 118h1v1h-1zM343 118h1v1h-1z" fill="#1a1a1a" shape-rendering="crispEdges"/>
<path d="M345 57h1v1h-1zM325 71h1v1h-1zM340 74h1v1h-1zM324 75h1v1h-1zM322 77h1v1h-1zM338 77h1v1h-1zM336 80h1v1h-1zM340 80h1v1h-1zM327 82h1v1h-1zM375 82h1v1h-1zM316 83h1v1h-1zM329 83h1v1h-1zM331 84h1v1h-1zM329 85h1v1h-1zM335 85h1v1h-1zM336 86h1v1h-1zM327 87h2v1h-2zM337 87h1v1h-1zM318 88h1v1h-1zM328 88h1v1h-1zM367 88h1v1h-1zM316 89h1v1h-1zM320 89h1v1h-1zM331 89h3v1h-3zM336 89h1v1h-1zM312 90h1v1h-1zM339 90h1v1h-1zM313 91h1v1h-1zM317 91h1v1h-1zM321 91h1v1h-1zM325 91h1v1h-1zM335 91h2v1h-2zM292 92h1v1h-1zM314 92h1v1h-1zM319 92h1v1h-1zM321 92h1v1h-1zM324 92h2v1h-2zM329 92h2v1h-2zM340 92h1v1h-1zM317 93h1v1h-1zM324 93h2v1h-2zM330 93h3v1h-3zM314 94h1v1h-1zM333 94h1v1h-1zM336 94h2v1h-2zM308 95h1v1h-1zM321 95h1v1h-1zM325 95h2v1h-2zM330 95h1v1h-1zM334 95h1v1h-1zM309 96h1v1h-1zM323 96h1v1h-1zM330 96h2v1h-2zM308 97h1v1h-1zM317 97h1v1h-1zM319 97h2v1h-2zM322 97h1v1h-1zM324 97h1v1h-1zM327 97h1v1h-1zM296 98h1v1h-1zM303 98h1v1h-1zM306 98h1v1h-1zM308 98h1v1h-1zM317 98h1v1h-1zM319 98h1v1h-1zM322 98h3v1h-3zM328 98h1v1h-1zM332 98h1v1h-1zM349 98h1v1h-1zM283 99h1v1h-1zM295 99h1v1h-1zM303 99h1v1h-1zM318 99h1v1h-1zM320 99h1v1h-1zM324 99h1v1h-1zM326 99h3v1h-3zM330 99h3v1h-3zM334 99h1v1h-1zM339 99h1v1h-1zM305 100h1v1h-1zM311 100h1v1h-1zM313 100h1v1h-1zM315 100h2v1h-2zM319 100h3v1h-3zM323 100h2v1h-2zM327 100h3v1h-3zM331 100h1v1h-1zM335 100h2v1h-2zM340 100h1v1h-1zM345 100h1v1h-1zM296 101h1v1h-1zM307 101h1v1h-1zM311 101h1v1h-1zM315 101h1v1h-1zM318 101h1v1h-1zM320 101h3v1h-3zM324 101h3v1h-3zM331 101h3v1h-3zM336 101h1v1h-1zM339 101h1v1h-1zM347 101h1v1h-1zM300 102h1v1h-1zM302 102h1v1h-1zM304 102h1v1h-1zM307 102h1v1h-1zM310 102h1v1h-1zM312 102h1v1h-1zM314 102h2v1h-2zM318 102h4v1h-4zM324 102h2v1h-2zM327 102h5v1h-5zM333 102h2v1h-2zM336 102h1v1h-1zM338 102h3v1h-3zM343 102h1v1h-1zM302 103h1v1h-1zM305 103h1v1h-1zM309 103h3v1h-3zM314 103h1v1h-1zM316 103h1v1h-1zM318 103h3v1h-3zM322 103h1v1h-1zM324 103h1v1h-1zM326 103h3v1h-3zM330 103h2v1h-2zM333 103h1v1h-1zM338 103h1v1h-1zM303 104h1v1h-1zM308 104h1v1h-1zM315 104h1v1h-1zM317 104h6v1h-6zM325 104h5v1h-5zM331 104h4v1h-4zM336 104h2v1h-2zM303 105h1v1h-1zM307 105h1v1h-1zM312 105h2v1h-2zM315 105h4v1h-4zM320 105h10v1h-10zM331 105h2v1h-2zM334 105h1v1h-1zM341 105h1v1h-1zM291 106h1v1h-1zM308 106h2v1h-2zM312 106h3v1h-3zM316 106h7v1h-7zM325 106h11v1h-11zM337 106h1v1h-1zM347 106h1v1h-1zM307 107h2v1h-2zM310 107h2v1h-2zM313 107h1v1h-1zM315 107h10v1h-10zM326 107h6v1h-6zM333 107h3v1h-3zM338 107h1v1h-1zM340 107h1v1h-1zM346 107h1v1h-1zM301 108h1v1h-1zM304 108h1v1h-1zM308 108h1v1h-1zM311 108h1v1h-1zM314 108h24v1h-24zM339 108h2v1h-2zM297 109h1v1h-1zM302 109h1v1h-1zM308 109h4v1h-4zM313 109h2v1h-2zM316 109h21v1h-21zM339 109h1v1h-1zM342 109h1v1h-1zM344 109h1v1h-1zM301 110h1v1h-1zM303 110h1v1h-1zM306 110h1v1h-1zM310 110h1v1h-1zM313 110h3v1h-3zM319 110h17v1h-17zM337 110h1v1h-1zM340 110h1v1h-1zM288 111h1v1h-1zM305 111h1v1h-1zM310 111h1v1h-1zM312 111h2v1h-2zM315 111h19v1h-19zM336 111h2v1h-2zM345 111h1v1h-1zM351 111h1v1h-1zM301 112h1v1h-1zM306 112h1v1h-1zM308 112h1v1h-1zM311 112h5v1h-5zM317 112h11v1h-11zM329 112h2v1h-2zM332 112h4v1h-4zM340 112h2v1h-2zM343 112h1v1h-1zM305 113h1v1h-1zM309 113h1v1h-1zM313 113h24v1h-24zM340 113h1v1h-1zM306 114h1v1h-1zM309 114h1v1h-1zM311 114h1v1h-1zM313 114h3v1h-3zM317 114h9v1h-9zM327 114h9v1h-9zM338 114h1v1h-1zM341 114h2v1h-2zM344 114h1v1h-1zM297 115h1v1h-1zM305 115h1v1h-1zM307 115h1v1h-1zM309 115h1v1h-1zM312 115h1v1h-1zM315 115h16v1h-16zM334 115h1v1h-1zM336 115h2v1h-2zM344 115h1v1h-1zM286 116h1v1h-1zM299 116h1v1h-1zM302 116h1v1h-1zM306 116h1v1h-1zM313 116h9v1h-9zM323 116h8v1h-8zM332 116h3v1h-3zM342 116h1v1h-1zM289 117h1v1h-1zM301 117h1v1h-1zM305 117h2v1h-2zM310 117h1v1h-1zM315 117h1v1h-1zM318 117h2v1h-2zM321 117h1v1h-1zM323 117h2v1h-2zM326 117h12v1h-12zM339 117h1v1h-1zM341 117h1v1h-1zM348 117h1v1h-1zM292 118h1v1h-1zM307 118h4v1h-4zM313 118h1v1h-1zM317 118h3v1h-3zM321 118h1v1h-1zM324 118h4v1h-4zM330 118h1v1h-1zM332 118h1v1h-1zM334 118h5v1h-5zM340 118h1v1h-1z" fill="#000" shape-rendering="crispEdges"/>
<rect x="281.2" y="38.8" width="104.80000000000001" height="81.60000000000001" fill="none" stroke="#000" stroke-width="1.4"/>
<line x1="317.0" y1="38.8" x2="317.0" y2="120.4" stroke="#000" stroke-width="1.4"/>
<line x1="281.2" y1="96.5" x2="386.0" y2="96.5" stroke="#000" stroke-width="1.4"/>
<rect x="353.0" y="38.8" width="33.0" height="32.2" fill="#fff" stroke="#000" stroke-width="1.4"/>
<line x1="369.5" y1="38.8" x2="369.5" y2="71.0" stroke="#000" stroke-width="1.4"/>
<line x1="353.0" y1="55.4" x2="386.0" y2="55.4" stroke="#000" stroke-width="1.4"/>
<text x="358.62" y="48.70" font-size="9.40" textLength="5.23" lengthAdjust="spacingAndGlyphs" fill="#000" >0</text>
<text x="372.42" y="48.70" font-size="9.40" textLength="10.46" lengthAdjust="spacingAndGlyphs" fill="#000" >12</text>
<text x="355.99" y="64.80" font-size="9.40" textLength="10.46" lengthAdjust="spacingAndGlyphs" fill="#000" >23</text>
<text x="372.44" y="64.80" font-size="9.40" textLength="10.46" lengthAdjust="spacingAndGlyphs" fill="#000" >64</text>
<text x="274.00" y="134.40" font-size="9.4">10</text>
<text x="284.86" y="131.40" font-size="8.4">0</text>
<text x="300.19" y="134.40" font-size="9.4">10</text>
<text x="310.77" y="131.40" font-size="8.4">1</text>
<text x="326.40" y="134.40" font-size="9.4">10</text>
<text x="337.18" y="131.40" font-size="8.4">2</text>
<text x="352.60" y="134.40" font-size="9.4">10</text>
<text x="363.46" y="131.40" font-size="8.4">3</text>
<text x="378.80" y="134.40" font-size="9.4">10</text>
<text x="389.83" y="131.40" font-size="8.4">4</text>
<g transform="translate(278.20,122.80) rotate(-90)"><text x="-0.70" y="0" font-size="9.4">10</text><text x="10.16" y="-3.0" font-size="8.4">0</text></g>
<g transform="translate(278.20,102.90) rotate(-90)"><text x="-0.70" y="0" font-size="9.4">10</text><text x="9.87" y="-3.0" font-size="8.4">1</text></g>
<g transform="translate(278.20,83.00) rotate(-90)"><text x="-0.70" y="0" font-size="9.4">10</text><text x="10.08" y="-3.0" font-size="8.4">2</text></g>
<g transform="translate(278.20,63.10) rotate(-90)"><text x="-0.70" y="0" font-size="9.4">10</text><text x="10.16" y="-3.0" font-size="8.4">3</text></g>
<g transform="translate(278.20,43.20) rotate(-90)"><text x="-0.70" y="0" font-size="9.4">10</text><text x="10.33" y="-3.0" font-size="8.4">4</text></g>
<path d="M492 45h1v1h-1zM476 50h1v1h-1zM463 62h1v1h-1zM462 71h1v1h-1zM470 71h1v1h-1zM468 75h1v1h-1zM458 77h1v1h-1zM451 79h1v1h-1zM436 81h1v1h-1zM447 83h1v1h-1zM454 83h1v1h-1zM458 84h1v1h-1zM419 85h1v1h-1zM454 85h1v1h-1zM468 85h1v1h-1zM451 87h1v1h-1zM418 91h1v1h-1zM465 93h1v1h-1zM443 94h1v1h-1zM445 94h1v1h-1zM434 95h1v1h-1zM465 96h1v1h-1zM430 97h1v1h-1zM460 97h1v1h-1zM418 99h1v1h-1zM463 99h1v1h-1zM485 99h1v1h-1zM508 99h1v1h-1zM419 100h1v1h-1zM459 100h1v1h-1zM463 100h1v1h-1zM417 101h1v1h-1zM473 101h1v1h-1zM459 106h1v1h-1zM415 109h1v1h-1zM419 109h1v1h-1zM462 109h1v1h-1zM412 110h1v1h-1zM417 110h1v1h-1zM413 112h1v1h-1zM458 112h1v1h-1zM416 113h1v1h-1zM459 116h1v1h-1zM417 118h1v1h-1zM421 118h1v1h-1z" fill="#707070" shape-rendering="crispEdges"/>
<path d="M419 39h1v1h-1zM459 42h1v1h-1zM417 46h1v1h-1zM469 55h1v1h-1zM460 58h1v1h-1zM463 58h1v1h-1zM469 64h1v1h-1zM470 66h1v1h-1zM459 69h1v1h-1zM459 71h1v1h-1zM476 71h1v1h-1zM453 72h1v1h-1zM460 74h2v1h-2zM460 75h1v1h-1zM456 76h1v1h-1zM460 77h1v1h-1zM448 78h1v1h-1zM420 79h1v1h-1zM448 79h1v1h-1zM465 79h1v1h-1zM445 80h1v1h-1zM460 80h1v1h-1zM441 81h1v1h-1zM465 83h1v1h-1zM443 84h1v1h-1zM456 84h1v1h-1zM462 84h1v1h-1zM468 84h1v1h-1zM457 85h1v1h-1zM442 86h1v1h-1zM446 86h1v1h-1zM452 86h1v1h-1zM454 86h1v1h-1zM442 87h1v1h-1zM446 87h1v1h-1zM465 87h1v1h-1zM451 88h1v1h-1zM469 88h1v1h-1zM445 89h1v1h-1zM444 90h1v1h-1zM446 90h2v1h-2zM453 90h1v1h-1zM455 90h1v1h-1zM438 91h1v1h-1zM443 91h1v1h-1zM445 91h1v1h-1zM450 91h1v1h-1zM457 91h1v1h-1zM438 92h1v1h-1zM448 92h1v1h-1zM453 92h1v1h-1zM443 93h1v1h-1zM446 93h1v1h-1zM451 93h3v1h-3zM449 94h1v1h-1zM455 94h1v1h-1zM471 94h1v1h-1zM423 95h1v1h-1zM435 95h1v1h-1zM443 95h1v1h-1zM449 95h1v1h-1zM455 95h3v1h-3zM459 95h1v1h-1zM466 95h1v1h-1zM410 96h1v1h-1zM439 96h1v1h-1zM445 96h1v1h-1zM449 96h1v1h-1zM452 96h1v1h-1zM454 96h1v1h-1zM456 96h1v1h-1zM458 96h1v1h-1zM460 96h2v1h-2zM470 96h1v1h-1zM422 97h1v1h-1zM429 97h1v1h-1zM434 97h2v1h-2zM437 97h1v1h-1zM453 97h3v1h-3zM457 97h1v1h-1zM429 98h1v1h-1zM431 98h1v1h-1zM446 98h1v1h-1zM452 98h1v1h-1zM454 98h1v1h-1zM461 98h1v1h-1zM475 98h1v1h-1zM415 99h1v1h-1zM421 99h2v1h-2zM430 99h1v1h-1zM432 99h1v1h-1zM450 99h1v1h-1zM453 99h1v1h-1zM455 99h1v1h-1zM464 99h1v1h-1zM414 100h1v1h-1zM424 100h1v1h-1zM431 100h1v1h-1zM449 100h2v1h-2zM458 100h1v1h-1zM413 101h1v1h-1zM452 101h1v1h-1zM462 101h1v1h-1zM487 101h1v1h-1zM416 102h1v1h-1zM425 102h1v1h-1zM450 102h2v1h-2zM455 102h1v1h-1zM457 102h1v1h-1zM468 102h1v1h-1zM409 103h1v1h-1zM458 103h1v1h-1zM423 104h1v1h-1zM457 104h1v1h-1zM420 105h1v1h-1zM454 105h1v1h-1zM468 105h1v1h-1zM411 106h1v1h-1zM415 106h1v1h-1zM420 106h1v1h-1zM422 106h1v1h-1zM426 106h1v1h-1zM460 106h1v1h-1zM467 106h1v1h-1zM420 107h1v1h-1zM426 107h1v1h-1zM418 108h1v1h-1zM421 108h1v1h-1zM426 109h1v1h-1zM452 109h1v1h-1zM421 110h1v1h-1zM424 110h2v1h-2zM453 110h2v1h-2zM470 110h1v1h-1zM451 111h1v1h-1zM417 112h1v1h-1zM427 112h2v1h-2zM457 112h1v1h-1zM465 112h1v1h-1zM407 113h1v1h-1zM419 113h1v1h-1zM424 113h1v1h-1zM426 113h2v1h-2zM467 113h1v1h-1zM423 114h2v1h-2zM450 114h1v1h-1zM419 115h1v1h-1zM450 115h1v1h-1zM460 115h1v1h-1zM463 115h1v1h-1zM422 116h1v1h-1zM424 116h1v1h-1zM419 117h1v1h-1zM448 117h1v1h-1zM460 117h1v1h-1zM441 118h1v1h-1zM446 118h1v1h-1zM449 118h1v1h-1zM456 118h1v1h-1zM459 118h1v1h-1zM464 118h1v1h-1z" fill="#404040" shape-rendering="crispEdges"/>
<path d="M453 64h1v1h-1zM443 67h2v1h-2zM415 69h1v1h-1zM452 70h1v1h-1zM443 73h1v1h-1zM470 74h1v1h-1zM463 76h1v1h-1zM467 77h1v1h-1zM461 78h1v1h-1zM459 79h1v1h-1zM456 80h1v1h-1zM449 81h1v1h-1zM453 81h1v1h-1zM456 81h1v1h-1zM452 84h1v1h-1zM450 85h1v1h-1zM441 86h1v1h-1zM450 86h1v1h-1zM462 86h2v1h-2zM468 86h1v1h-1zM445 87h1v1h-1zM452 87h1v1h-1zM445 88h1v1h-1zM463 88h1v1h-1zM443 89h1v1h-1zM450 89h1v1h-1zM456 89h1v1h-1zM469 89h1v1h-1zM460 90h1v1h-1zM437 91h1v1h-1zM454 91h1v1h-1zM444 92h1v1h-1zM447 92h1v1h-1zM457 92h1v1h-1zM440 93h1v1h-1zM449 93h1v1h-1zM424 94h1v1h-1zM457 94h1v1h-1zM461 94h1v1h-1zM501 94h1v1h-1zM447 95h1v1h-1zM452 95h1v1h-1zM460 95h1v1h-1zM438 96h1v1h-1zM441 96h1v1h-1zM447 96h1v1h-1zM436 97h1v1h-1zM445 97h1v1h-1zM451 97h2v1h-2zM469 97h1v1h-1zM426 98h1v1h-1zM432 98h1v1h-1zM436 98h1v1h-1zM438 98h1v1h-1zM440 98h2v1h-2zM449 98h2v1h-2zM464 98h1v1h-1zM424 99h1v1h-1zM452 99h1v1h-1zM456 99h1v1h-1zM467 99h1v1h-1zM422 100h1v1h-1zM436 100h1v1h-1zM448 100h1v1h-1zM452 100h1v1h-1zM416 101h1v1h-1zM427 101h1v1h-1zM432 101h2v1h-2zM439 101h1v1h-1zM445 101h1v1h-1zM455 101h1v1h-1zM457 101h1v1h-1zM413 102h1v1h-1zM429 102h1v1h-1zM433 102h1v1h-1zM440 102h1v1h-1zM443 102h1v1h-1zM448 102h2v1h-2zM453 102h2v1h-2zM466 102h1v1h-1zM429 103h1v1h-1zM451 103h1v1h-1zM462 103h1v1h-1zM465 103h1v1h-1zM415 104h1v1h-1zM450 104h1v1h-1zM419 105h1v1h-1zM448 105h1v1h-1zM452 105h2v1h-2zM457 105h1v1h-1zM450 106h1v1h-1zM455 106h2v1h-2zM470 106h1v1h-1zM427 107h1v1h-1zM446 107h1v1h-1zM448 107h1v1h-1zM464 107h1v1h-1zM424 108h1v1h-1zM426 108h1v1h-1zM428 108h1v1h-1zM450 108h1v1h-1zM453 108h1v1h-1zM455 108h1v1h-1zM466 108h1v1h-1zM420 109h2v1h-2zM428 109h1v1h-1zM448 109h1v1h-1zM415 110h1v1h-1zM435 110h1v1h-1zM446 110h1v1h-1zM452 110h1v1h-1zM457 110h1v1h-1zM412 111h1v1h-1zM421 111h1v1h-1zM430 111h1v1h-1zM433 111h1v1h-1zM435 111h1v1h-1zM452 111h1v1h-1zM455 111h1v1h-1zM420 112h1v1h-1zM424 112h1v1h-1zM429 112h1v1h-1zM434 112h1v1h-1zM449 112h1v1h-1zM453 112h1v1h-1zM428 113h1v1h-1zM430 113h1v1h-1zM433 113h1v1h-1zM435 113h1v1h-1zM441 113h1v1h-1zM469 113h1v1h-1zM420 114h1v1h-1zM430 114h1v1h-1zM434 114h1v1h-1zM448 114h1v1h-1zM454 114h1v1h-1zM457 114h1v1h-1zM433 115h2v1h-2zM438 115h1v1h-1zM446 115h1v1h-1zM455 115h1v1h-1zM457 115h1v1h-1zM417 116h1v1h-1zM428 116h2v1h-2zM431 116h1v1h-1zM433 116h2v1h-2zM439 116h1v1h-1zM450 116h1v1h-1zM453 116h1v1h-1zM457 116h1v1h-1zM500 116h1v1h-1zM422 117h1v1h-1zM440 117h1v1h-1zM443 117h1v1h-1zM446 117h1v1h-1zM450 117h1v1h-1zM453 117h1v1h-1zM456 117h1v1h-1zM432 118h1v1h-1zM434 118h2v1h-2zM445 118h1v1h-1zM452 118h1v1h-1z" fill="#1a1a1a" shape-rendering="crispEdges"/>
<path d="M461 50h1v1h-1zM455 57h1v1h-1zM439 66h1v1h-1zM452 67h1v1h-1zM470 69h1v1h-1zM464 71h1v1h-1zM461 72h1v1h-1zM441 73h1v1h-1zM475 73h1v1h-1zM459 76h1v1h-1zM468 76h1v1h-1zM450 80h2v1h-2zM447 81h1v1h-1zM455 81h1v1h-1zM434 82h1v1h-1zM460 83h1v1h-1zM454 84h1v1h-1zM452 85h1v1h-1zM467 85h1v1h-1zM458 86h2v1h-2zM441 87h1v1h-1zM453 87h1v1h-1zM457 87h1v1h-1zM459 87h1v1h-1zM443 88h1v1h-1zM450 88h1v1h-1zM454 88h1v1h-1zM461 88h2v1h-2zM434 89h1v1h-1zM453 89h1v1h-1zM455 89h1v1h-1zM459 89h1v1h-1zM441 90h1v1h-1zM445 90h1v1h-1zM449 90h1v1h-1zM451 90h2v1h-2zM454 90h1v1h-1zM459 90h1v1h-1zM462 90h1v1h-1zM467 90h1v1h-1zM449 91h1v1h-1zM455 91h1v1h-1zM443 92h1v1h-1zM449 92h2v1h-2zM454 92h1v1h-1zM461 92h1v1h-1zM448 93h1v1h-1zM454 93h1v1h-1zM457 93h1v1h-1zM459 93h1v1h-1zM466 93h1v1h-1zM451 94h2v1h-2zM458 94h1v1h-1zM422 95h1v1h-1zM439 95h1v1h-1zM442 95h1v1h-1zM444 95h1v1h-1zM450 95h1v1h-1zM458 95h1v1h-1zM463 95h1v1h-1zM435 96h1v1h-1zM437 96h1v1h-1zM446 96h1v1h-1zM450 96h2v1h-2zM457 96h1v1h-1zM423 97h2v1h-2zM427 97h2v1h-2zM438 97h7v1h-7zM447 97h3v1h-3zM458 97h1v1h-1zM417 98h1v1h-1zM420 98h1v1h-1zM424 98h1v1h-1zM427 98h2v1h-2zM430 98h1v1h-1zM433 98h2v1h-2zM437 98h1v1h-1zM442 98h2v1h-2zM445 98h1v1h-1zM447 98h1v1h-1zM451 98h1v1h-1zM453 98h1v1h-1zM459 98h1v1h-1zM419 99h1v1h-1zM425 99h1v1h-1zM428 99h1v1h-1zM431 99h1v1h-1zM433 99h2v1h-2zM436 99h6v1h-6zM443 99h2v1h-2zM446 99h4v1h-4zM457 99h1v1h-1zM460 99h1v1h-1zM479 99h1v1h-1zM426 100h1v1h-1zM428 100h3v1h-3zM432 100h2v1h-2zM435 100h1v1h-1zM437 100h1v1h-1zM439 100h1v1h-1zM441 100h7v1h-7zM454 100h1v1h-1zM456 100h1v1h-1zM410 101h1v1h-1zM423 101h1v1h-1zM428 101h1v1h-1zM434 101h3v1h-3zM438 101h1v1h-1zM441 101h2v1h-2zM444 101h1v1h-1zM446 101h4v1h-4zM453 101h1v1h-1zM409 102h1v1h-1zM414 102h1v1h-1zM420 102h1v1h-1zM422 102h2v1h-2zM428 102h1v1h-1zM430 102h1v1h-1zM432 102h1v1h-1zM434 102h6v1h-6zM441 102h2v1h-2zM444 102h1v1h-1zM446 102h2v1h-2zM459 102h1v1h-1zM425 103h2v1h-2zM428 103h1v1h-1zM430 103h3v1h-3zM434 103h1v1h-1zM437 103h4v1h-4zM442 103h9v1h-9zM453 103h5v1h-5zM474 103h1v1h-1zM421 104h1v1h-1zM425 104h1v1h-1zM427 104h1v1h-1zM429 104h4v1h-4zM434 104h1v1h-1zM436 104h1v1h-1zM438 104h7v1h-7zM446 104h2v1h-2zM451 104h1v1h-1zM465 104h1v1h-1zM476 104h1v1h-1zM411 105h1v1h-1zM421 105h1v1h-1zM424 105h1v1h-1zM426 105h1v1h-1zM428 105h2v1h-2zM431 105h3v1h-3zM435 105h6v1h-6zM442 105h2v1h-2zM446 105h2v1h-2zM449 105h1v1h-1zM458 105h1v1h-1zM423 106h2v1h-2zM427 106h1v1h-1zM429 106h1v1h-1zM432 106h13v1h-13zM446 106h1v1h-1zM448 106h2v1h-2zM451 106h3v1h-3zM461 106h1v1h-1zM465 106h1v1h-1zM407 107h1v1h-1zM419 107h1v1h-1zM423 107h2v1h-2zM429 107h17v1h-17zM447 107h1v1h-1zM450 107h3v1h-3zM454 107h1v1h-1zM456 107h1v1h-1zM422 108h1v1h-1zM427 108h1v1h-1zM429 108h1v1h-1zM431 108h18v1h-18zM451 108h1v1h-1zM454 108h1v1h-1zM456 108h2v1h-2zM459 108h1v1h-1zM463 108h1v1h-1zM422 109h1v1h-1zM425 109h1v1h-1zM427 109h1v1h-1zM429 109h19v1h-19zM450 109h2v1h-2zM454 109h1v1h-1zM459 109h1v1h-1zM423 110h1v1h-1zM426 110h2v1h-2zM429 110h6v1h-6zM436 110h10v1h-10zM447 110h1v1h-1zM449 110h3v1h-3zM455 110h2v1h-2zM422 111h1v1h-1zM427 111h2v1h-2zM431 111h2v1h-2zM434 111h1v1h-1zM436 111h2v1h-2zM439 111h5v1h-5zM445 111h1v1h-1zM447 111h4v1h-4zM423 112h1v1h-1zM430 112h1v1h-1zM432 112h1v1h-1zM435 112h10v1h-10zM446 112h1v1h-1zM448 112h1v1h-1zM452 112h1v1h-1zM454 112h1v1h-1zM456 112h1v1h-1zM459 112h1v1h-1zM462 112h1v1h-1zM422 113h2v1h-2zM431 113h2v1h-2zM436 113h5v1h-5zM442 113h4v1h-4zM447 113h2v1h-2zM450 113h5v1h-5zM458 113h2v1h-2zM412 114h1v1h-1zM427 114h2v1h-2zM435 114h12v1h-12zM449 114h1v1h-1zM451 114h3v1h-3zM456 114h1v1h-1zM460 114h1v1h-1zM462 114h1v1h-1zM412 115h1v1h-1zM421 115h1v1h-1zM427 115h1v1h-1zM429 115h1v1h-1zM431 115h2v1h-2zM436 115h1v1h-1zM439 115h4v1h-4zM444 115h2v1h-2zM447 115h2v1h-2zM451 115h1v1h-1zM453 115h2v1h-2zM425 116h1v1h-1zM427 116h1v1h-1zM435 116h1v1h-1zM437 116h1v1h-1zM440 116h9v1h-9zM451 116h2v1h-2zM462 116h1v1h-1zM420 117h1v1h-1zM427 117h1v1h-1zM429 117h9v1h-9zM439 117h1v1h-1zM442 117h1v1h-1zM449 117h1v1h-1zM451 117h2v1h-2zM455 117h1v1h-1zM462 117h1v1h-1zM418 118h1v1h-1zM424 118h1v1h-1zM426 118h1v1h-1zM428 118h1v1h-1zM431 118h1v1h-1zM433 118h1v1h-1zM436 118h5v1h-5zM444 118h1v1h-1zM447 118h2v1h-2zM457 118h1v1h-1zM472 118h1v1h-1z" fill="#000" shape-rendering="crispEdges"/>
<rect x="406.4" y="38.5" width="104.60000000000002" height="81.8" fill="none" stroke="#000" stroke-width="1.4"/>
<line x1="442.5" y1="38.5" x2="442.5" y2="120.3" stroke="#000" stroke-width="1.4"/>
<line x1="406.4" y1="96.0" x2="511.0" y2="96.0" stroke="#000" stroke-width="1.4"/>
<rect x="478.0" y="38.5" width="33.0" height="32.2" fill="#fff" stroke="#000" stroke-width="1.4"/>
<line x1="494.5" y1="38.5" x2="494.5" y2="70.7" stroke="#000" stroke-width="1.4"/>
<line x1="478.0" y1="55.1" x2="511.0" y2="55.1" stroke="#000" stroke-width="1.4"/>
<text x="483.62" y="48.40" font-size="9.40" textLength="5.23" lengthAdjust="spacingAndGlyphs" fill="#000" >0</text>
<text x="497.37" y="48.40" font-size="9.40" textLength="10.46" lengthAdjust="spacingAndGlyphs" fill="#000" >15</text>
<text x="480.99" y="64.50" font-size="9.40" textLength="10.46" lengthAdjust="spacingAndGlyphs" fill="#000" >28</text>
<text x="497.58" y="64.50" font-size="9.40" textLength="10.46" lengthAdjust="spacingAndGlyphs" fill="#000" >57</text>
<text x="399.19" y="134.40" font-size="9.4">10</text>
<text x="410.06" y="131.40" font-size="8.4">0</text>
<text x="425.34" y="134.40" font-size="9.4">10</text>
<text x="435.92" y="131.40" font-size="8.4">1</text>
<text x="451.50" y="134.40" font-size="9.4">10</text>
<text x="462.28" y="131.40" font-size="8.4">2</text>
<text x="477.65" y="134.40" font-size="9.4">10</text>
<text x="488.51" y="131.40" font-size="8.4">3</text>
<text x="503.80" y="134.40" font-size="9.4">10</text>
<text x="514.83" y="131.40" font-size="8.4">4</text>
<g transform="translate(403.40,122.80) rotate(-90)"><text x="-0.70" y="0" font-size="9.4">10</text><text x="10.16" y="-3.0" font-size="8.4">0</text></g>
<g transform="translate(403.40,102.90) rotate(-90)"><text x="-0.70" y="0" font-size="9.4">10</text><text x="9.87" y="-3.0" font-size="8.4">1</text></g>
<g transform="translate(403.40,83.00) rotate(-90)"><text x="-0.70" y="0" font-size="9.4">10</text><text x="10.08" y="-3.0" font-size="8.4">2</text></g>
<g transform="translate(403.40,63.10) rotate(-90)"><text x="-0.70" y="0" font-size="9.4">10</text><text x="10.16" y="-3.0" font-size="8.4">3</text></g>
<g transform="translate(403.40,43.20) rotate(-90)"><text x="-0.70" y="0" font-size="9.4">10</text><text x="10.33" y="-3.0" font-size="8.4">4</text></g>
<text x="39.51" y="28.90" font-size="13.63" textLength="82.60" lengthAdjust="spacingAndGlyphs" fill="#000" >No Treatment</text>
<text x="187.35" y="27.10" font-size="13.60" textLength="35.08" lengthAdjust="spacingAndGlyphs" fill="#000" >iGal-1</text>
<text x="318.32" y="27.30" font-size="13.60" textLength="33.23" lengthAdjust="spacingAndGlyphs" fill="#000" >Gal-3</text>
<text x="438.00" y="13.00" font-size="13.60" textLength="48.68" lengthAdjust="spacingAndGlyphs" fill="#000" >iGal-1 +</text>
<text x="438.22" y="26.30" font-size="13.60" textLength="33.33" lengthAdjust="spacingAndGlyphs" fill="#000" >Gal-3</text>
<text x="21.25" y="14.75" font-size="20.50" textLength="12.29" lengthAdjust="spacingAndGlyphs" fill="#000" >A</text>
<text x="18.73" y="182.90" font-size="20.50" textLength="15.58" lengthAdjust="spacingAndGlyphs" fill="#000" >B</text>
<text x="321.36" y="183.00" font-size="20.50" textLength="16.49" lengthAdjust="spacingAndGlyphs" fill="#000" >C</text>
<text x="200.60" y="146.90" font-size="11.23" textLength="79.23" lengthAdjust="spacingAndGlyphs" fill="#000" >Annexin V FITC</text>
<text transform="translate(9.00,129.70) rotate(-90)" x="-0.91" y="0" font-size="11.40" textLength="85.52" lengthAdjust="spacingAndGlyphs" fill="#000">Propidium Iodide</text>
<line x1="287.7" y1="144.8" x2="334" y2="144.8" stroke="#8a8a8a" stroke-width="1.0"/>
<path d="M331,140.6 L344.8,144.8 L331,149 L334.5,144.8 Z" fill="#000"/>
<line x1="7.2" y1="35" x2="7.2" y2="42.5" stroke="#8a8a8a" stroke-width="0.9"/>
<path d="M3.0,37.6 L7.2,23.6 L11.4,37.6 L7.2,34.6 Z" fill="#000"/>
<line x1="64.0" y1="400.5" x2="68.9" y2="400.5" stroke="#777" stroke-width="0.8"/>
<text x="52.34" y="403.20" font-size="15.50" textLength="8.62" lengthAdjust="spacingAndGlyphs" fill="#000" >0</text>
<line x1="64.0" y1="373.3" x2="68.9" y2="373.3" stroke="#777" stroke-width="0.8"/>
<text x="52.42" y="377.00" font-size="15.50" textLength="8.62" lengthAdjust="spacingAndGlyphs" fill="#000" >5</text>
<line x1="64.0" y1="346.1" x2="68.9" y2="346.1" stroke="#777" stroke-width="0.8"/>
<text x="43.74" y="349.80" font-size="15.50" textLength="17.24" lengthAdjust="spacingAndGlyphs" fill="#000" >10</text>
<line x1="64.0" y1="318.9" x2="68.9" y2="318.9" stroke="#777" stroke-width="0.8"/>
<text x="43.81" y="322.60" font-size="15.50" textLength="17.24" lengthAdjust="spacingAndGlyphs" fill="#000" >15</text>
<line x1="64.0" y1="291.7" x2="68.9" y2="291.7" stroke="#777" stroke-width="0.8"/>
<text x="43.74" y="295.40" font-size="15.50" textLength="17.24" lengthAdjust="spacingAndGlyphs" fill="#000" >20</text>
<line x1="64.0" y1="264.5" x2="68.9" y2="264.5" stroke="#777" stroke-width="0.8"/>
<text x="43.81" y="268.20" font-size="15.50" textLength="17.24" lengthAdjust="spacingAndGlyphs" fill="#000" >25</text>
<line x1="64.0" y1="237.29999999999998" x2="68.9" y2="237.29999999999998" stroke="#777" stroke-width="0.8"/>
<text x="43.74" y="241.00" font-size="15.50" textLength="17.24" lengthAdjust="spacingAndGlyphs" fill="#000" >30</text>
<line x1="64.0" y1="210.1" x2="68.9" y2="210.1" stroke="#777" stroke-width="0.8"/>
<text x="43.82" y="213.80" font-size="15.50" textLength="17.24" lengthAdjust="spacingAndGlyphs" fill="#000" >35</text>
<line x1="68.9" y1="168.0" x2="68.9" y2="400.0" stroke="#222" stroke-width="1.4"/>
<line x1="271.2" y1="168.0" x2="271.2" y2="400.0" stroke="#222" stroke-width="1.4"/>
<line x1="68.9" y1="168.0" x2="271.2" y2="168.0" stroke="#222" stroke-width="1.4"/>
<line x1="68.9" y1="190.9" x2="271.2" y2="190.9" stroke="#222" stroke-width="1.4"/>
<line x1="64.0" y1="400.0" x2="271.2" y2="400.0" stroke="#222" stroke-width="1.4"/>
<text x="116.50" y="183.10" font-size="14.00" textLength="106.00" lengthAdjust="spacingAndGlyphs" fill="#000" >Activated T cells</text>
<rect x="73.2" y="195.5" width="100.1" height="44.7" fill="#fff" stroke="#000" stroke-width="1.2"/>
<rect x="77.4" y="199.6" width="13.6" height="9.3" fill="#aaaaaa" stroke="#000" stroke-width="1.4"/>
<rect x="77.4" y="213.29999999999998" width="13.6" height="9.3" fill="#555555" stroke="#000" stroke-width="1.4"/>
<rect x="77.4" y="227.0" width="13.6" height="9.3" fill="#151515" stroke="#000" stroke-width="1.4"/>
<text x="93.50" y="207.00" font-size="10.80" textLength="28.92" lengthAdjust="spacingAndGlyphs" fill="#000" >iGal-1</text>
<text x="126.57" y="208.80" font-size="10.80" textLength="8.55" lengthAdjust="spacingAndGlyphs" fill="#000" >+</text>
<text x="138.61" y="207.00" font-size="10.80" textLength="28.76" lengthAdjust="spacingAndGlyphs" fill="#000" >Gal-3</text>
<text x="94.03" y="220.60" font-size="10.80" textLength="27.72" lengthAdjust="spacingAndGlyphs" fill="#000" >Gal-3</text>
<text x="139.08" y="220.60" font-size="10.80" textLength="29.55" lengthAdjust="spacingAndGlyphs" fill="#000" >iGal-1</text>
<text x="93.49" y="234.00" font-size="10.80" textLength="29.23" lengthAdjust="spacingAndGlyphs" fill="#000" >iGal-1</text>
<text x="139.24" y="234.00" font-size="10.80" textLength="27.52" lengthAdjust="spacingAndGlyphs" fill="#000" >Gal-3</text>
<line x1="125.4" y1="217.2" x2="132.3" y2="217.2" stroke="#000" stroke-width="1.1"/>
<path d="M130.8,214.2 L136.3,217.2 L130.8,220.2 Z" fill="#000"/>
<line x1="126.5" y1="230.7" x2="132.7" y2="230.7" stroke="#000" stroke-width="1.1"/>
<path d="M131.2,227.7 L136.7,230.7 L131.2,233.7 Z" fill="#000"/>
<path d="M85.5 400.0 V321.5 H100.5 V400.0" fill="#fff" stroke="#000" stroke-width="1.2"/>
<line x1="92.5" y1="317.0" x2="92.5" y2="326.0" stroke="#000" stroke-width="1.0"/>
<line x1="89.3" y1="317.0" x2="95.7" y2="317.0" stroke="#000" stroke-width="1.2"/>
<line x1="89.3" y1="326.0" x2="95.7" y2="326.0" stroke="#000" stroke-width="1.2"/>
<path d="M115.5 400.0 V266.5 H131.5 V400.0" fill="#fff" stroke="#000" stroke-width="1.2"/>
<line x1="123.5" y1="260.6" x2="123.5" y2="271.0" stroke="#000" stroke-width="1.0"/>
<line x1="120.3" y1="260.6" x2="126.7" y2="260.6" stroke="#000" stroke-width="1.2"/>
<line x1="120.3" y1="271.0" x2="126.7" y2="271.0" stroke="#000" stroke-width="1.2"/>
<text x="119.81" y="258.60" font-size="9.00" textLength="7.00" lengthAdjust="spacingAndGlyphs" fill="#222" style="stroke:none">**</text>
<path d="M146.5 400.0 V326.5 H161.5 V400.0" fill="#fff" stroke="#000" stroke-width="1.2"/>
<line x1="154.5" y1="316.0" x2="154.5" y2="335.8" stroke="#000" stroke-width="1.0"/>
<line x1="151.3" y1="316.0" x2="157.7" y2="316.0" stroke="#000" stroke-width="1.2"/>
<line x1="151.3" y1="335.8" x2="157.7" y2="335.8" stroke="#000" stroke-width="1.2"/>
<path d="M178.5 400.0 V246.5 H193.5 V400.0" fill="#adadad" stroke="#000" stroke-width="1.2"/>
<line x1="186.5" y1="237.4" x2="186.5" y2="253.0" stroke="#000" stroke-width="1.0"/>
<line x1="183.3" y1="237.4" x2="189.7" y2="237.4" stroke="#000" stroke-width="1.2"/>
<line x1="183.3" y1="253.0" x2="189.7" y2="253.0" stroke="#000" stroke-width="1.2"/>
<text x="184.30" y="235.40" font-size="9.00" textLength="3.50" lengthAdjust="spacingAndGlyphs" fill="#222" style="stroke:none">*</text>
<path d="M209.5 400.0 V242.5 H225.5 V400.0" fill="#3d3d3d" stroke="#000" stroke-width="1.2"/>
<line x1="217.5" y1="239.2" x2="217.5" y2="243.3" stroke="#000" stroke-width="1.0"/>
<line x1="214.3" y1="239.2" x2="220.7" y2="239.2" stroke="#000" stroke-width="1.2"/>
<line x1="214.3" y1="243.3" x2="220.7" y2="243.3" stroke="#000" stroke-width="1.2"/>
<text x="215.80" y="237.20" font-size="9.00" textLength="3.50" lengthAdjust="spacingAndGlyphs" fill="#222" style="stroke:none">*</text>
<path d="M240.5 400.0 V261.5 H257.5 V400.0" fill="#121212" stroke="#000" stroke-width="1.2"/>
<line x1="249.5" y1="237.9" x2="249.5" y2="284.3" stroke="#000" stroke-width="1.0"/>
<line x1="246.3" y1="237.9" x2="252.7" y2="237.9" stroke="#000" stroke-width="1.2"/>
<line x1="246.3" y1="284.3" x2="252.7" y2="284.3" stroke="#000" stroke-width="1.2"/>
<text x="245.59" y="235.90" font-size="9.00" textLength="7.00" lengthAdjust="spacingAndGlyphs" fill="#222" style="stroke:none">**</text>
<rect x="17.3" y="406.3" width="253.89999999999998" height="37.599999999999966" fill="none" stroke="#000" stroke-width="1.3"/>
<text x="26.58" y="420.60" font-size="13.60" textLength="37.85" lengthAdjust="spacingAndGlyphs" fill="#000" >iGal-1</text>
<text x="29.37" y="436.30" font-size="13.60" textLength="35.93" lengthAdjust="spacingAndGlyphs" fill="#000" >Gal-3</text>
<rect x="89.95" y="418.40" width="4.3" height="1.6" fill="#111"/>
<rect x="89.95" y="433.80" width="4.3" height="1.6" fill="#111"/>
<rect x="120.65" y="418.40" width="4.3" height="1.6" fill="#111"/>
<path d="M119.40 433.85h6.8v1.5h-6.8zM122.05 431.20h1.5v6.8h-1.5z" fill="#111"/>
<path d="M150.20 418.45h6.8v1.5h-6.8zM152.85 415.80h1.5v6.8h-1.5z" fill="#111"/>
<rect x="151.45" y="433.80" width="4.3" height="1.6" fill="#111"/>
<path d="M182.40 418.45h6.8v1.5h-6.8zM185.05 415.80h1.5v6.8h-1.5z" fill="#111"/>
<path d="M182.40 433.85h6.8v1.5h-6.8zM185.05 431.20h1.5v6.8h-1.5z" fill="#111"/>
<path d="M214.20 418.45h6.8v1.5h-6.8zM216.85 415.80h1.5v6.8h-1.5z" fill="#111"/>
<path d="M214.20 433.85h6.8v1.5h-6.8zM216.85 431.20h1.5v6.8h-1.5z" fill="#111"/>
<path d="M245.60 418.45h6.8v1.5h-6.8zM248.25 415.80h1.5v6.8h-1.5z" fill="#111"/>
<path d="M245.60 433.85h6.8v1.5h-6.8zM248.25 431.20h1.5v6.8h-1.5z" fill="#111"/>
<line x1="369.0" y1="403.6" x2="373.8" y2="403.6" stroke="#777" stroke-width="0.8"/>
<text x="356.64" y="403.40" font-size="15.50" textLength="8.62" lengthAdjust="spacingAndGlyphs" fill="#000" >0</text>
<line x1="369.0" y1="369.45000000000005" x2="373.8" y2="369.45000000000005" stroke="#777" stroke-width="0.8"/>
<text x="356.72" y="374.88" font-size="15.50" textLength="8.62" lengthAdjust="spacingAndGlyphs" fill="#000" >5</text>
<line x1="369.0" y1="335.3" x2="373.8" y2="335.3" stroke="#777" stroke-width="0.8"/>
<text x="348.04" y="340.73" font-size="15.50" textLength="17.24" lengthAdjust="spacingAndGlyphs" fill="#000" >10</text>
<line x1="369.0" y1="301.15000000000003" x2="373.8" y2="301.15000000000003" stroke="#777" stroke-width="0.8"/>
<text x="348.11" y="306.58" font-size="15.50" textLength="17.24" lengthAdjust="spacingAndGlyphs" fill="#000" >15</text>
<line x1="369.0" y1="267.0" x2="373.8" y2="267.0" stroke="#777" stroke-width="0.8"/>
<text x="348.04" y="272.43" font-size="15.50" textLength="17.24" lengthAdjust="spacingAndGlyphs" fill="#000" >20</text>
<line x1="369.0" y1="232.85000000000002" x2="373.8" y2="232.85000000000002" stroke="#777" stroke-width="0.8"/>
<text x="348.12" y="238.28" font-size="15.50" textLength="17.24" lengthAdjust="spacingAndGlyphs" fill="#000" >25</text>
<line x1="369.0" y1="198.70000000000002" x2="373.8" y2="198.70000000000002" stroke="#777" stroke-width="0.8"/>
<text x="348.04" y="204.13" font-size="15.50" textLength="17.24" lengthAdjust="spacingAndGlyphs" fill="#000" >30</text>
<line x1="373.8" y1="168.2" x2="373.8" y2="403.4" stroke="#222" stroke-width="1.4"/>
<line x1="494.3" y1="168.2" x2="494.3" y2="403.4" stroke="#222" stroke-width="1.4"/>
<line x1="373.8" y1="168.2" x2="494.3" y2="168.2" stroke="#222" stroke-width="1.4"/>
<line x1="373.8" y1="190.5" x2="494.3" y2="190.5" stroke="#222" stroke-width="1.4"/>
<line x1="369.0" y1="403.4" x2="494.3" y2="403.4" stroke="#222" stroke-width="1.4"/>
<text x="397.00" y="183.00" font-size="14.00" textLength="71.49" lengthAdjust="spacingAndGlyphs" fill="#000" >Act. T cells</text>
<path d="M382.5 403.4 V315.5 H400.5 V403.4" fill="#fff" stroke="#000" stroke-width="1.2"/>
<line x1="391.5" y1="313.5" x2="391.5" y2="317.1" stroke="#000" stroke-width="1.0"/>
<line x1="388.2" y1="313.5" x2="394.8" y2="313.5" stroke="#000" stroke-width="1.2"/>
<line x1="388.2" y1="317.1" x2="394.8" y2="317.1" stroke="#000" stroke-width="1.2"/>
<path d="M411.5 403.4 V338.5 H428.5 V403.4" fill="#cbcbcb" stroke="#000" stroke-width="1.2"/>
<line x1="419.5" y1="328.7" x2="419.5" y2="344.9" stroke="#000" stroke-width="1.0"/>
<line x1="416.2" y1="328.7" x2="422.8" y2="328.7" stroke="#000" stroke-width="1.2"/>
<line x1="416.2" y1="344.9" x2="422.8" y2="344.9" stroke="#000" stroke-width="1.2"/>
<path d="M440.5 403.4 V246.5 H457.5 V403.4" fill="#6f6f6f" stroke="#000" stroke-width="1.2"/>
<line x1="448.5" y1="227.6" x2="448.5" y2="263.0" stroke="#000" stroke-width="1.0"/>
<line x1="445.2" y1="227.6" x2="451.8" y2="227.6" stroke="#000" stroke-width="1.2"/>
<line x1="445.2" y1="263.0" x2="451.8" y2="263.0" stroke="#000" stroke-width="1.2"/>
<text x="447.04" y="222.60" font-size="8.50" textLength="3.31" lengthAdjust="spacingAndGlyphs" fill="#222" style="stroke:none">*</text>
<path d="M468.5 403.4 V236.5 H485.5 V403.4" fill="#141414" stroke="#000" stroke-width="1.2"/>
<line x1="477.5" y1="217.3" x2="477.5" y2="236.5" stroke="#000" stroke-width="1.0"/>
<line x1="474.2" y1="217.3" x2="480.8" y2="217.3" stroke="#000" stroke-width="1.2"/>
<text x="475.34" y="213.30" font-size="8.50" textLength="3.31" lengthAdjust="spacingAndGlyphs" fill="#222" style="stroke:none">*</text>
<text transform="translate(33.70,366.80) rotate(-90)" x="-0.51" y="0" font-size="14.00" textLength="120.68" lengthAdjust="spacingAndGlyphs" fill="#000">% Cells PI positive</text>
<text transform="translate(339.90,375.00) rotate(-90)" x="-0.51" y="0" font-size="14.00" textLength="155.37" lengthAdjust="spacingAndGlyphs" fill="#000">% Cells TUNEL positive</text>
<rect x="320.6" y="407.5" width="174.5" height="35.69999999999999" fill="none" stroke="#000" stroke-width="1.3"/>
<text x="326.97" y="421.00" font-size="13.60" textLength="38.11" lengthAdjust="spacingAndGlyphs" fill="#000" >iGal-1</text>
<text x="329.05" y="436.30" font-size="13.60" textLength="36.55" lengthAdjust="spacingAndGlyphs" fill="#000" >Gal-3</text>
<rect x="387.35" y="418.40" width="4.3" height="1.6" fill="#111"/>
<rect x="387.35" y="433.80" width="4.3" height="1.6" fill="#111"/>
<path d="M415.50 418.45h6.8v1.5h-6.8zM418.15 415.80h1.5v6.8h-1.5z" fill="#111"/>
<rect x="416.75" y="433.80" width="4.3" height="1.6" fill="#111"/>
<rect x="445.95" y="418.40" width="4.3" height="1.6" fill="#111"/>
<path d="M444.70 433.85h6.8v1.5h-6.8zM447.35 431.20h1.5v6.8h-1.5z" fill="#111"/>
<path d="M472.90 418.45h6.8v1.5h-6.8zM475.55 415.80h1.5v6.8h-1.5z" fill="#111"/>
<path d="M472.90 433.85h6.8v1.5h-6.8zM475.55 431.20h1.5v6.8h-1.5z" fill="#111"/>
</g>
</svg></body></html>
